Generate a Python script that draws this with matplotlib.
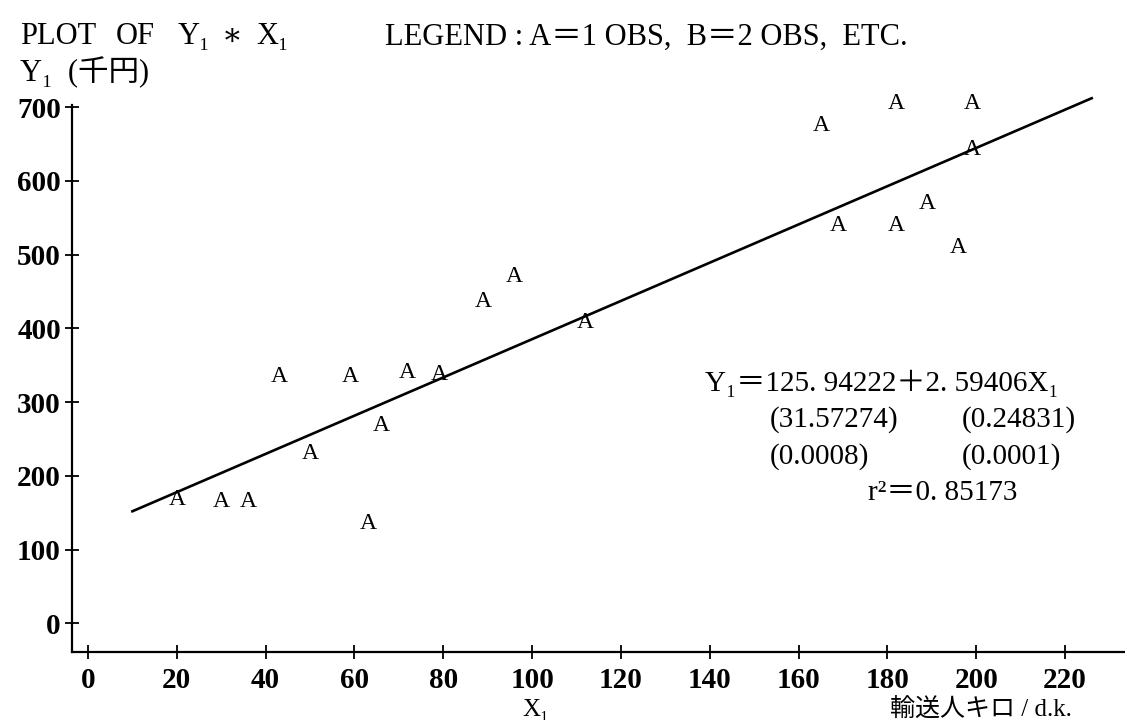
import numpy as np
import matplotlib.pyplot as plt

# fonts: serif for latin, CJK fallback for the Japanese labels
serif = ['Liberation Serif', 'DejaVu Serif', 'Noto Sans CJK JP']
plt.rcParams['font.family'] = serif

# -----------------------------
# Data
# -----------------------------
x1 = [20, 30, 36, 43, 50, 59, 63, 66, 72, 79, 89, 96, 112,
      165, 169, 182, 182, 189, 196, 199, 199]
y1 = [168, 165, 165, 335, 230, 335, 135, 268, 340, 338, 437, 470, 408,
      675, 540, 705, 540, 570, 510, 705, 642]

intercept = 125.94222
slope = 2.59406
line_x = np.array([10, 226])

x_ticks = list(range(0, 221, 20))
y_ticks = list(range(0, 701, 100))

W, H = 1125, 720
fig = plt.figure(figsize=(W / 100, H / 100), dpi=100)


def px(x, y):
    return x / W, 1 - y / H


ax = fig.add_axes([72 / W, 1 - 652 / H, (W - 72) / W, (652 - 105) / H])
ax.set_xlim(-3.6, 233.5)
ax.set_ylim(-39, 703)

# fitted line
ax.plot(line_x, intercept + slope * line_x, color='black', lw=1.9,
        clip_on=False)

# each observation printed as the letter A
for xv, yv in zip(x1, y1):
    ax.text(xv, yv, 'A', ha='center', va='center', fontsize=17,
            color='black', clip_on=False)

for side in ['top', 'right']:
    ax.spines[side].set_visible(False)
for side in ['left', 'bottom']:
    ax.spines[side].set_linewidth(1.6)

ax.set_xticks(x_ticks)
ax.set_yticks(y_ticks)
ax.tick_params(axis='both', direction='inout', length=10, width=1.3,
               labelsize=21)
ax.tick_params(axis='x', pad=6)
ax.tick_params(axis='y', pad=3)
for lab in ax.get_xticklabels() + ax.get_yticklabels():
    lab.set_fontweight('bold')

# header lines of the printout
hdr = [(20, 'PLOT'), (116, 'OF'), (178, 'Y\u2081'), (222, '\u2217'), (256, 'X\u2081')]
for xp, s in hdr:
    fig.text(*px(xp, 37), s, fontsize=22, va='center', ha='left')
fig.text(*px(385, 37), 'LEGEND : A＝1 OBS,  B＝2 OBS,  ETC.', fontsize=22,
         va='center', ha='left')
fig.text(*px(20, 72), 'Y\u2081  (千円)', fontsize=22, va='center', ha='left')

# axis labels at the bottom
fig.text(*px(536, 710), 'X\u2081', fontsize=18, va='center', ha='center')
fig.text(*px(890, 710), '輸送人キロ / d.k.', fontsize=18, va='center', ha='left')

# regression result
fig.text(*px(705, 383), 'Y\u2081＝125. 94222＋2. 59406X\u2081', fontsize=21,
         va='center', ha='left')
fig.text(*px(770, 420), '(31.57274)', fontsize=21, va='center', ha='left')
fig.text(*px(962, 420), '(0.24831)', fontsize=21, va='center', ha='left')
fig.text(*px(770, 457), '(0.0008)', fontsize=21, va='center', ha='left')
fig.text(*px(962, 457), '(0.0001)', fontsize=21, va='center', ha='left')
fig.text(*px(868, 493), 'r\u00b2＝0. 85173', fontsize=21, va='center', ha='left')

fig.savefig('out.png', dpi=100)
